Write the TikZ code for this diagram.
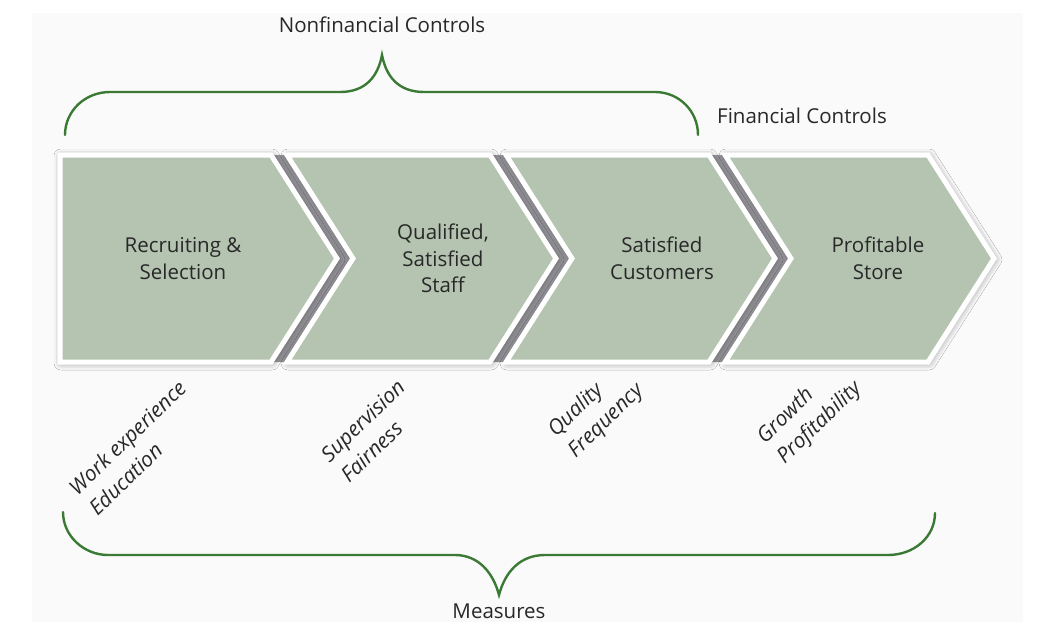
\documentclass[tikz,border=0pt]{standalone}
\usepackage{fontspec}
\setmainfont{Open Sans}
\usepackage{xcolor}
\usepackage{tikz}
\usetikzlibrary{positioning,shadows.blur}
\definecolor{chevfill}{RGB}{180,196,176}
\definecolor{stripe}{RGB}{148,148,154}
\definecolor{bracegreen}{RGB}{58,122,52}
\definecolor{ink}{RGB}{40,40,40}
\definecolor{paper}{RGB}{250,250,250}
\tikzset{
  chev/.style={draw=white, line width=5pt, line join=miter, fill=chevfill, blur shadow={shadow xshift=1pt, shadow yshift=-1pt, shadow blur radius=7pt, shadow opacity=45}},
  gap/.style={fill=stripe},
  bracket/.style={draw=bracegreen, line width=2.4pt, line cap=round},
  lbl/.style={align=center, inner sep=0pt, text=ink, font=\fontsize{20.5}{26.5}\selectfont},
  measure/.style={align=left, inner sep=0pt, anchor=west, rotate=44, text=ink, font=\fontsize{21}{28.5}\selectfont\itshape},
  ctrl/.style={inner sep=0pt, text=ink, font=\fontsize{20.5}{24}\selectfont},
}

\begin{document}
\begin{tikzpicture}[x=1pt, y=-1pt]
  \useasboundingbox (0,0) rectangle (1050,622);
  \fill[paper] (32,13) rectangle (1023,622);
  % dark seams between the arrows
  \fill[gap] (271,155) -- (337,258.5) -- (271,362) -- (287,362) -- (353,258.5) -- (287,155) -- cycle;
  \fill[gap] (490,155) -- (556,258.5) -- (490,362) -- (506,362) -- (572,258.5) -- (506,155) -- cycle;
  \fill[gap] (709,155) -- (775,258.5) -- (709,362) -- (725,362) -- (791,258.5) -- (725,155) -- cycle;
  % the four arrows
  \draw[chev] (60,155) -- (271,155) -- (337,258.5) -- (271,362) -- (60,362) -- cycle;
  \draw[chev] (287,155) -- (490,155) -- (556,258.5) -- (490,362) -- (287,362) -- (353,258.5) -- cycle;
  \draw[chev] (506,155) -- (709,155) -- (775,258.5) -- (709,362) -- (506,362) -- (572,258.5) -- cycle;
  \draw[chev] (725,155) -- (928,155) -- (994,258.5) -- (928,362) -- (725,362) -- (791,258.5) -- cycle;
  \node[lbl] (recruit) at (183,258.5) {Recruiting \&\\Selection};
  \node[lbl] (staff) at (443,258.5) {Qualified,\\Satisfied\\Staff};
  \node[lbl] (customers) at (662,258.5) {Satisfied\\Customers};
  \node[lbl] (store) at (878,258.5) {Profitable\\Store};
  % measures under each stage
  \node[measure] (mrecruit) at (82,501) {Work experience\\Education};
  \node[measure] (mstaff) at (334,468) {Supervision\\Fairness};
  \node[measure] (mcustomers) at (562,444) {Quality\\Frequency};
  \node[measure] (mstore) at (771,450.5) {Growth\\Profitability};
  % braces
  \coordinate (toptip) at (382,55);
  \coordinate (bottip) at (499,595);
  \draw[bracket] (65,135) .. controls (65,111) and (85,92) .. (110,92) -- (340,92)
    .. controls (366,92) and (378,76) .. (toptip) .. controls (386,76) and (398,92) .. (424,92)
    -- (655,92) .. controls (679,92) and (698,111) .. (698,135);
  \draw[bracket] (63,512) .. controls (63,536) and (84,555) .. (108,555) -- (455,555)
    .. controls (478,555) and (493,572) .. (bottip) .. controls (505,572) and (520,555) .. (545,555)
    -- (888,555) .. controls (914,555) and (935,537) .. (935,513);
  \node[ctrl, anchor=base, above=22pt of toptip] (nonfin) {Nonfinancial Controls};
  \node[ctrl, anchor=base west] (fin) at (717,123) {Financial Controls};
  \node[ctrl, below=9pt of bottip] (measures) {Measures};
\end{tikzpicture}
\end{document}
